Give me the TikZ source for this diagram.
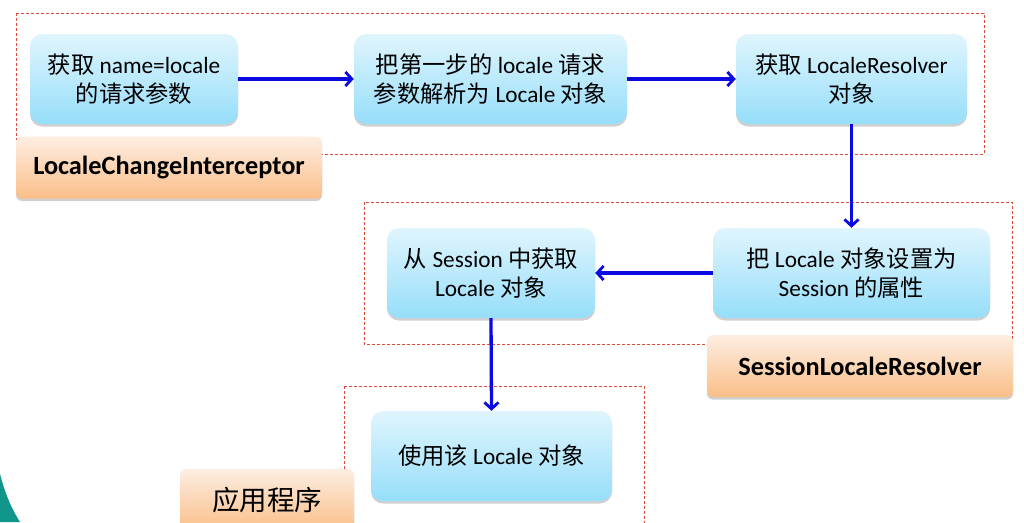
\documentclass[tikz,border=0pt]{standalone}
\usepackage{fontspec}
\setmainfont{Carlito}
\newfontfamily\cjk{Noto Sans CJK SC}
\usetikzlibrary{arrows.meta,shadows}
\definecolor{boxtop}{RGB}{224,245,253}
\definecolor{boxbot}{RGB}{150,222,250}
\definecolor{ortop}{RGB}{253,238,226}
\definecolor{orbot}{RGB}{250,190,136}
\definecolor{dashred}{RGB}{225,75,60}
\definecolor{arrowblue}{RGB}{10,10,225}
\definecolor{tealc}{RGB}{16,150,138}
\newcommand{\zh}[1]{{\cjk #1}}
\begin{document}
\begin{tikzpicture}[x=1pt,y=-1pt,
  stepbox/.style={rounded corners=12pt, top color=boxtop, bottom color=boxbot, draw=none,
    align=center, font=\fontsize{23.3}{28.5}\selectfont, inner sep=0pt, minimum height=90pt,
    drop shadow={shadow xshift=0pt, shadow yshift=-2.5pt, opacity=0.3, fill=black!60}},
  labelbox/.style={rounded corners=6pt, top color=ortop, bottom color=orbot, draw=none,
    align=center, font=\fontsize{26.3}{30}\selectfont\bfseries, inner sep=0pt, minimum height=62pt,
    drop shadow={shadow xshift=0pt, shadow yshift=-2.5pt, opacity=0.3, fill=black!60}},
  group/.style={draw=dashred, line width=0.9pt, dash pattern=on 3pt off 2pt},
  arr/.style={draw=arrowblue, line width=3.3pt, -{Straight Barb[length=6.5pt,width=14pt,line width=2.8pt]}}
]
\useasboundingbox (0,0) rectangle (1024,522);
\clip (0,0) rectangle (1024,522);
\fill[white] (0,0) rectangle (1024,522);
% teal corner
\fill[tealc] (0,474) .. controls (5,493) and (11,508) .. (20,522) -- (0,522) -- cycle;

% dashed groups
\draw[group] (16,13) rectangle (984,154);
\draw[group] (364,202) rectangle (1012,344);
\draw[group] (344,386) rectangle (644,545);

% steps
\node[stepbox, minimum width=208pt] (b1) at (134,79) {\zh{获取} name=locale\\\zh{的请求参数}};
\node[stepbox, minimum width=273pt] (b2) at (490.5,79) {\zh{把第一步的} locale \zh{请求}\\\zh{参数解析为} Locale \zh{对象}};
\node[stepbox, minimum width=231pt] (b3) at (851.5,79) {\zh{获取} LocaleResolver\\\zh{对象}};
\node[stepbox, minimum width=277pt] (b4) at (851.5,273) {\zh{把} Locale \zh{对象设置为}\\Session \zh{的属性}};
\node[stepbox, minimum width=208pt] (b5) at (491,273) {\zh{从} Session \zh{中获取}\\Locale \zh{对象}};
\node[stepbox, minimum width=241pt] (b6) at (491.5,456) {\zh{使用该} Locale \zh{对象}};

% labels
\node[labelbox, minimum width=306pt] (l1) at (169,167.5) {LocaleChangeInterceptor};
\node[labelbox, minimum width=306pt] (l2) at (860,366) {SessionLocaleResolver};
\node[labelbox, minimum width=174pt, font=\fontsize{27.5}{30}\selectfont\cjk] (l3) at (267,500) {应用程序};

% arrows
\draw[arr] (b1.east) -- (b2.west);
\draw[arr] (b2.east) -- (b3.west);
\draw[arr] (b3.south) -- (b4.north);
\draw[arr] (b4.west) -- (b5.east);
\draw[arr] (b5.south) -- (b6.north);
\end{tikzpicture}
\end{document}
